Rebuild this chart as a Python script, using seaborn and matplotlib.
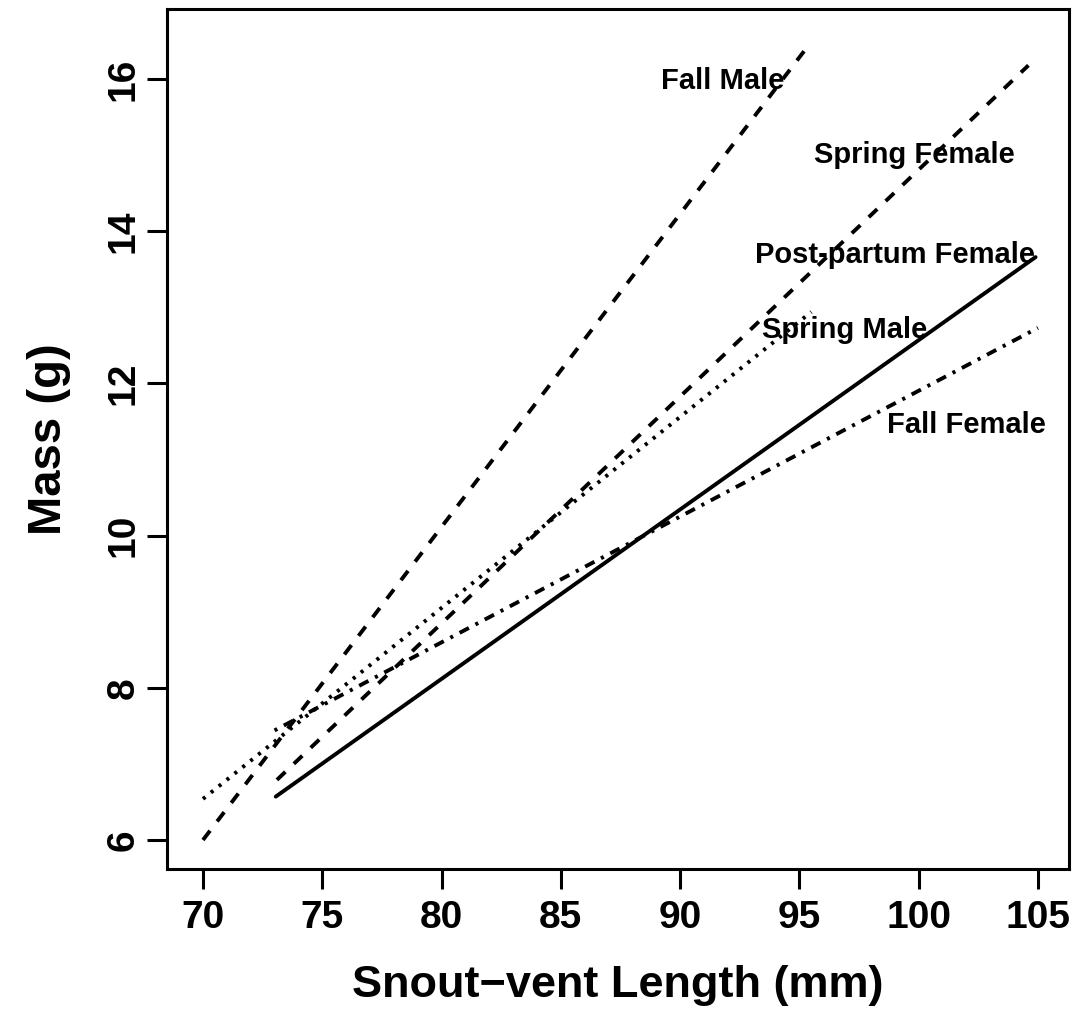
import matplotlib
matplotlib.use("Agg")
import matplotlib.pyplot as plt
import seaborn as sns
import pandas as pd

# ---- data ----
groups = ["Fall Male", "Spring Female", "Post-partum Female", "Spring Male", "Fall Female"]
svl_start = [70.0, 73.1, 73.05, 70.0, 73.0]
svl_end = [95.4, 104.6, 104.9, 95.5, 105.0]
mass_start = [6.0, 6.79, 6.57, 6.54, 7.44]
mass_end = [16.45, 16.18, 13.66, 12.94, 12.73]
label_x = [91.8, 99.8, 99.0, 96.9, 102.0]
label_y = [15.97, 15.0, 13.69, 12.70, 11.46]
x_ticks = [70, 75, 80, 85, 90, 95, 100, 105]
y_ticks = [6, 8, 10, 12, 14, 16]

rows = []
for g, x0, x1, y0, y1 in zip(groups, svl_start, svl_end, mass_start, mass_end):
    rows.append({"group": g, "svl": x0, "mass": y0})
    rows.append({"group": g, "svl": x1, "mass": y1})
df = pd.DataFrame(rows)

sns.set_style("ticks")
plt.rcParams["font.family"] = ["Liberation Sans", "DejaVu Sans"]
for k in ["text.color", "axes.labelcolor", "xtick.color", "ytick.color", "axes.edgecolor"]:
    plt.rcParams[k] = "black"

fig = plt.figure(figsize=(10.75, 10.16), dpi=100)
ax = fig.add_axes([0.1553, 0.1447, 0.8391, 0.8464])

dash_map = {
    "Fall Male": (3, 3),
    "Spring Female": (3, 3),
    "Post-partum Female": "",
    "Spring Male": (0.8, 1.8),
    "Fall Female": (0.8, 1.9, 2.7, 1.9),
}
sns.lineplot(data=df, x="svl", y="mass", style="group", style_order=groups,
             dashes=dash_map, color="black", linewidth=2.8, estimator=None,
             legend=False, ax=ax)

for g, lx, ly in zip(groups, label_x, label_y):
    ax.text(lx, ly, g, ha="center", va="center", fontsize=21, fontweight="bold",
            color="black")

ax.set_xlim(68.49, 106.30)
ax.set_ylim(5.619, 16.92)
ax.set_xticks(x_ticks)
ax.set_yticks(y_ticks)
ax.set_xticklabels([str(t) for t in x_ticks])
ax.set_yticklabels([str(t) for t in y_ticks])

for s in ax.spines.values():
    s.set_visible(True)
    s.set_linewidth(2.2)
    s.set_color("black")

ax.tick_params(axis="both", length=14.5, width=2.2, color="black",
               labelcolor="black", labelsize=28)
ax.tick_params(axis="x", pad=8)
ax.tick_params(axis="y", pad=4, labelrotation=90)
for lbl in ax.get_yticklabels():
    lbl.set_va("center")
    lbl.set_fontweight("bold")
for lbl in ax.get_xticklabels():
    lbl.set_fontweight("bold")

ax.set_xlabel("Snout\u2212vent Length (mm)", fontsize=32.5, fontweight="bold")
ax.set_ylabel("Mass (g)", fontsize=34, fontweight="bold")
ax.xaxis.set_label_coords(0.5, -0.135)
ax.xaxis.label.set_va("center")
ax.yaxis.set_label_coords(-0.131, 0.5)
ax.yaxis.label.set_va("center")

fig.savefig("out.png", dpi=100)
